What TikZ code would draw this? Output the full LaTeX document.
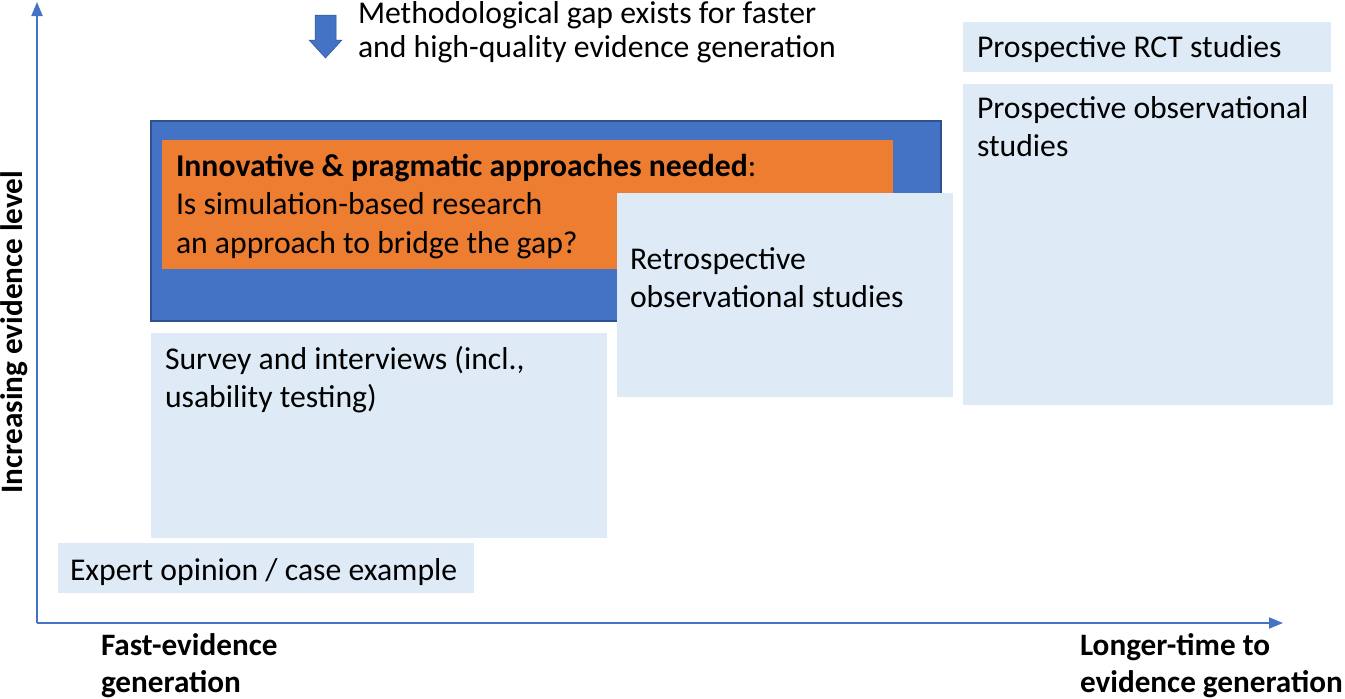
\documentclass[tikz,border=0pt]{standalone}
\usepackage{fontspec}
\setmainfont{Carlito}
\usetikzlibrary{arrows.meta}
\definecolor{axisblue}{HTML}{4472C4}
\definecolor{darkblue}{HTML}{2F528F}
\definecolor{orng}{HTML}{ED7D31}
\definecolor{pale}{HTML}{DEEBF7}
\tikzset{
  box/.style={anchor=north west,inner sep=0pt,outer sep=0pt,draw=none,fill=pale},
  txt/.style={anchor=base west,inner sep=0pt,outer sep=0pt,font=\fontsize{31.7}{39}\selectfont,text=black},
  btxt/.style={txt,font=\fontsize{31.2}{39}\selectfont\bfseries},
  axis/.style={draw=axisblue,line width=1.8pt,-{Triangle[length=14pt,width=11pt]}}
}
\begin{document}
\begin{tikzpicture}[x=1pt,y=-1pt]
\useasboundingbox (0,0) rectangle (1345,699);
% axes
\coordinate (O) at (37,623);
\coordinate (ytip) at (37,2);
\coordinate (xtip) at (1283,623);
\draw[axis] (O) -- (ytip);
\draw[axis] (O) -- (xtip);
% boxes
\node[box,fill=axisblue,draw=darkblue,line width=1.2pt,minimum width=790pt,minimum height=200pt] (blue) at (151,121) {};
\node[box,fill=orng,minimum width=731pt,minimum height=129pt] (orange) at (162,140) {};
\node[box,minimum width=336pt,minimum height=204pt] (retro) at (617,193) {};
\node[box,minimum width=456pt,minimum height=205pt] (survey) at (151,333) {};
\node[box,minimum width=416pt,minimum height=50pt] (expert) at (58,543) {};
\node[box,minimum width=368pt,minimum height=50pt] (rct) at (963,22) {};
\node[box,minimum width=370pt,minimum height=321pt] (pobs) at (963,84) {};
% texts
\node[txt] (t1) at (176,176) {\textbf{Innovative \& pragmatic approaches needed}:};
\node[txt] (t2) at (176,214) {Is simulation-based research};
\node[txt] (t3) at (176,253) {an approach to bridge the gap?};
\node[txt] (t4) at (630,269) {Retrospective};
\node[txt] (t5) at (630,307) {observational studies};
\node[txt] (t6) at (165,369) {Survey and interviews (incl.,};
\node[txt] (t7) at (165,407) {usability testing)};
\node[txt] (t8) at (70,580) {Expert opinion / case example};
\node[txt] (t9) at (977,57) {Prospective RCT studies};
\node[txt] (t10) at (977,118) {Prospective observational};
\node[txt] (t11) at (977,156) {studies};
\node[txt] (t12) at (358,23) {Methodological gap exists for faster};
\node[txt] (t13) at (358,57) {and high-quality evidence generation};
\node[btxt] (t14) at (101,655) {Fast-evidence};
\node[btxt] (t15) at (101,692) {generation};
\node[btxt] (t16) at (1080,655) {Longer-time to};
\node[btxt] (t17) at (1080,692) {evidence generation};
\node[btxt,anchor=base,rotate=90] (t18) at (22,332) {Increasing evidence level};
% down block arrow
\fill[axisblue,draw=darkblue,line width=0.5pt] (315,15) -- (336,15) -- (336,40) -- (342,40) -- (325.5,58) -- (309,40) -- (315,40) -- cycle;
\end{tikzpicture}
\end{document}
